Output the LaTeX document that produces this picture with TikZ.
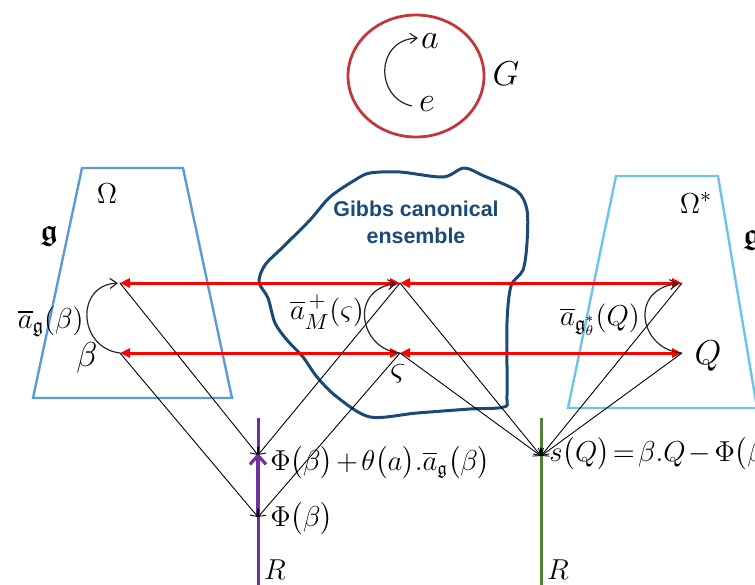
\documentclass[tikz,border=0pt]{standalone}
\usepackage{amsmath,amssymb}
\usepackage{fontspec}
\newfontfamily\gibbsfont{Liberation Sans}
\usetikzlibrary{arrows.meta}
\definecolor{ringred}{HTML}{C3363A}
\definecolor{omegablue}{HTML}{5B9BD5}
\definecolor{omegasky}{HTML}{6EC3E8}
\definecolor{blobblue}{HTML}{1A4A78}
\definecolor{mapred}{HTML}{FF0000}
\definecolor{rpurple}{HTML}{7030A0}
\definecolor{rgreen}{HTML}{548235}
\newcommand{\tightmath}{\medmuskip=2mu plus 1mu\relax\thickmuskip=2mu plus 1mu\relax}
\begin{document}
\begin{tikzpicture}[x=0.5pt,y=-0.5pt,
  redmap/.style={draw=mapred,line width=1.5pt,{Triangle[length=5pt,width=4.5pt]}-{Triangle[length=5pt,width=4.5pt]}},
  thinmap/.style={draw=black,line width=0.45pt,-{Straight Barb[length=3pt,width=5pt]}},
  arcmap/.style={draw=black!85,line width=0.6pt,-{Straight Barb[length=3.5pt,width=5pt]}},
  mlabel/.style={inner sep=0pt,font=\fontsize{15}{17}\selectfont},
  biglabel/.style={inner sep=0pt,font=\fontsize{17}{19}\selectfont},
  formula/.style={inner sep=0pt,anchor=base west,font=\fontsize{13.5}{16}\selectfont},
  axisline/.style={line width=1.5pt}]
\useasboundingbox (0,0) rectangle (755,584);
\clip (0,0) rectangle (755,584);

% group G
\draw[ringred,line width=1.4pt] (416,76) ellipse [x radius=68, y radius=61];
\node[inner sep=0pt,font=\fontsize{16}{18}\selectfont] (a) at (430,41) {$a$};
\node[inner sep=0pt,font=\fontsize{16}{18}\selectfont] (e) at (427,104) {$e$};
\node[inner sep=0pt,font=\fontsize{16}{18}\selectfont] (G) at (506,74) {$G$};
\coordinate (eS) at (412,106);
\coordinate (aS) at (418,38);
\draw[arcmap] (eS) .. controls (375,98) and (375,40) .. (aS);

% blob
\draw[blobblue,line width=1.5pt]
  plot[smooth cycle,tension=0.5] coordinates {
  (370,173) (400,172) (443,177) (464,168) (484,176) (517,191)
  (527,210) (527,243) (523,270) (511,286) (507,323) (507,395) (504,407)
  (470,409) (417,413) (370,417) (337,397) (317,377) (303,357) (287,340) (275,323) (268,298)
  (259,282) (265,265) (283,247) (310,220) (330,197) (355,180)};
\node[inner sep=0pt,text=blobblue,align=center,font=\gibbsfont\bfseries\fontsize{10.7}{13.5}\selectfont] (gibbs) at (416,222) {Gibbs canonical\\ensemble};

% trapezoids
\draw[omegablue,line width=1.2pt] (82,168) -- (183,168) -- (232,398) -- (33,398) -- cycle;
\draw[omegasky,line width=1.2pt] (616,176) -- (718,176) -- (757,408) -- (568,408) -- cycle;
\node[mlabel] (Om) at (107,194) {$\Omega$};
\node[mlabel] (gl) at (49,236) {$\boldsymbol{\mathfrak{g}}$};
\node[mlabel] (Oms) at (696,203) {$\Omega^{*}$};
\node[mlabel] (gr) at (752,240) {$\boldsymbol{\mathfrak{g}}$};

% points
\coordinate (L1) at (120,283);
\coordinate (L2) at (120,353);
\coordinate (M1) at (400,283);
\coordinate (M2) at (400,353);
\coordinate (R1) at (682,283);
\coordinate (R2) at (682,353);
\coordinate (Ra) at (258,455);
\coordinate (Rb) at (258,517);
\coordinate (Rs) at (541,456);
\coordinate (Pt) at (258,418);
\coordinate (Pb) at (258,590);
\coordinate (Gt) at (541,418);
\coordinate (Gb) at (541,590);

% real lines
\draw[rpurple,axisline] (Pb) -- (Pt);
\draw[rpurple,line width=1.6pt,-{Straight Barb[length=4.5pt,width=8pt]}] (Rb) -- ([yshift=1pt]Ra);
\draw[rgreen,axisline] (Gb) -- (Gt);

% red maps
\draw[redmap] (M1) -- (L1);
\draw[redmap] (M1) -- (R1);
\draw[redmap] (M2) -- (L2);
\draw[redmap] (M2) -- (R2);

% black maps
\draw[thinmap] (L1) -- (Ra);
\draw[thinmap] (M1) -- (Ra);
\draw[thinmap] (L2) -- (Rb);
\draw[thinmap] (M2) -- (Rb);
\draw[thinmap] (M1) -- (Rs);
\draw[thinmap] (M2) -- (Rs);
\draw[thinmap] (R1) -- (Rs);
\draw[thinmap] (R2) -- (Rs);

% action arcs
\draw[arcmap,shorten >=1pt] (L2) .. controls (78,348) and (75,285) .. (L1);
\draw[arcmap,shorten >=2pt] (M2) .. controls (360,350) and (348,290) .. (M1);
\draw[arcmap,shorten >=2pt] (R2) .. controls (640,350) and (628,290) .. (R1);

% labels
\node[mlabel,anchor=east] (lag) at (84,322) {$\overline{a}_{\mathfrak{g}}(\beta)$};
\node[biglabel] (lbeta) at (87,358) {$\beta$};
\node[mlabel] (lam) at (327,312) {$\overline{a}^{\,+}_{M}(\varsigma)$};
\node[biglabel] (lsig) at (398,374) {$\varsigma$};
\node[mlabel] (laq) at (600,320) {$\overline{a}_{\mathfrak{g}^{*}_{\theta}}(Q)$};
\node[biglabel] (lQ) at (708,356) {$Q$};
\node[formula] (fa) at (270,470) {$\tightmath\Phi\bigl(\beta\bigr)+\theta\bigl(a\bigr).\overline{a}_{\mathfrak{g}}\bigl(\beta\bigr)$};
\node[formula] (fb) at (270,526) {$\Phi\bigl(\beta\bigr)$};
\node[formula] (fs) at (549,461) {$\tightmath s\bigl(Q\bigr)=\beta.Q-\Phi\bigl(\beta\bigr)$};
\node[inner sep=0pt,font=\fontsize{15}{17}\selectfont] (Rl) at (275,570) {$R$};
\node[inner sep=0pt,font=\fontsize{15}{17}\selectfont] (Rr) at (558,570) {$R$};
\end{tikzpicture}
\end{document}
